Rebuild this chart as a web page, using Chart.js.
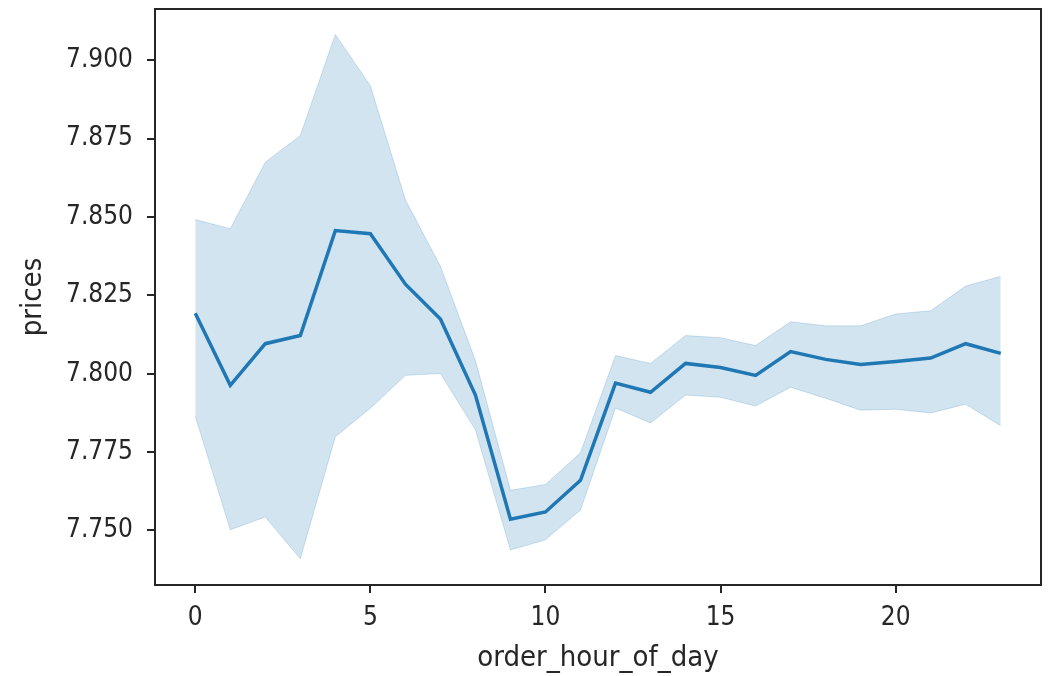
<!DOCTYPE html>
<html lang="en">
<head>
  <meta charset="UTF-8" />
  <title>prices by order_hour_of_day</title>
  <script src="https://cdn.jsdelivr.net/npm/chart.js"></script>
  <style>
    html, body { margin: 0; padding: 0; background: #fff; }
    .wrap { width: 1051px; height: 676px; position: relative; }
  </style>
</head>
<body>
  <div class="wrap">
    <canvas id="priceChart" width="1051" height="676"></canvas>
  </div>

  <script>
    // data
    const hours = [0, 1, 2, 3, 4, 5, 6, 7, 8, 9, 10, 11, 12, 13, 14, 15, 16, 17, 18, 19, 20, 21, 22, 23];
    const meanPrice = [7.8193, 7.7963, 7.8096, 7.8122, 7.8457, 7.8447, 7.8286, 7.8175, 7.7932, 7.7536, 7.7559, 7.7660,
                       7.7970, 7.7941, 7.8033, 7.8020, 7.7995, 7.8071, 7.8046, 7.8030, 7.8039, 7.8050, 7.8096, 7.8065];
    const upperCI = [7.8492, 7.8463, 7.8675, 7.8760, 7.9083, 7.8919, 7.8555, 7.8343, 7.8042, 7.7628, 7.7647, 7.7748,
                     7.8058, 7.8033, 7.8122, 7.8115, 7.8090, 7.8166, 7.8153, 7.8153, 7.8191, 7.8201, 7.8280, 7.8311];
    const lowerCI = [7.7865, 7.7502, 7.7543, 7.7410, 7.7799, 7.7890, 7.7995, 7.8001, 7.7821, 7.7438, 7.7470, 7.7565,
                     7.7891, 7.7843, 7.7932, 7.7925, 7.7897, 7.7957, 7.7922, 7.7884, 7.7887, 7.7875, 7.7903, 7.7834];
    const xTicks = [0, 5, 10, 15, 20];
    const yTicks = [7.750, 7.775, 7.800, 7.825, 7.850, 7.875, 7.900];

    const toPoints = arr => hours.map((h, i) => ({ x: h, y: arr[i] }));

    const FONT = "'DejaVu Sans Condensed', 'DejaVu Sans', sans-serif";
    const INK = '#262626';
    const BLUE = '#1f77b4';
    const BAND = 'rgba(31,119,180,0.2)';

    // box round the plot like matplotlib spines
    const frame = {
      id: 'frame',
      afterDraw(chart) {
        const a = chart.chartArea;
        const ctx = chart.ctx;
        ctx.save();
        ctx.strokeStyle = INK;
        ctx.lineWidth = 2;
        ctx.strokeRect(a.left, a.top, a.right - a.left, a.bottom - a.top);
        ctx.restore();
      }
    };

    const ctx = document.getElementById('priceChart').getContext('2d');
    new Chart(ctx, {
      type: 'line',
      data: {
        datasets: [
          {
            label: 'upper',
            data: toPoints(upperCI),
            borderColor: BAND,
            borderWidth: 1,
            backgroundColor: BAND,
            pointRadius: 0,
            fill: '+1',
            order: 2
          },
          {
            label: 'lower',
            data: toPoints(lowerCI),
            borderColor: BAND,
            borderWidth: 1,
            pointRadius: 0,
            fill: false,
            order: 2
          },
          {
            label: 'prices',
            data: toPoints(meanPrice),
            borderColor: BLUE,
            borderWidth: 3.5,
            pointRadius: 0,
            fill: false,
            order: 1
          }
        ]
      },
      options: {
        responsive: false,
        animation: false,
        layout: { padding: { left: 16, right: 10, top: 9, bottom: 0 } },
        plugins: {
          legend: { display: false },
          tooltip: { enabled: false }
        },
        scales: {
          x: {
            type: 'linear',
            min: -1.15,
            max: 24.15,
            afterBuildTicks: s => { s.ticks = xTicks.map(v => ({ value: v })); },
            afterFit: s => { s.height = 91; s.paddingLeft = 0; s.paddingRight = 0; },
            ticks: {
              color: INK,
              font: { family: FONT, size: 26 },
              padding: 10,
              callback: v => String(v)
            },
            grid: { drawOnChartArea: false, drawTicks: true, tickLength: 8, color: INK, lineWidth: 2 },
            border: { display: true, color: INK, width: 2 },
            title: {
              display: true,
              text: 'order_hour_of_day',
              color: INK,
              font: { family: FONT, size: 29 },
              padding: { top: 0, bottom: 0 }
            }
          },
          y: {
            type: 'linear',
            min: 7.7326,
            max: 7.9164,
            afterBuildTicks: s => { s.ticks = yTicks.map(v => ({ value: v })); },
            afterFit: s => { s.width = 155 - 16; s.paddingTop = 0; s.paddingBottom = 0; },
            ticks: {
              color: INK,
              font: { family: FONT, size: 26 },
              padding: 14,
              callback: v => Number(v).toFixed(3)
            },
            grid: { drawOnChartArea: false, drawTicks: true, tickLength: 8, color: INK, lineWidth: 2 },
            border: { display: true, color: INK, width: 2 },
            title: {
              display: true,
              text: 'prices',
              color: INK,
              font: { family: FONT, size: 29 },
              padding: 0
            }
          }
        }
      },
      plugins: [frame]
    });
  </script>
</body>
</html>
